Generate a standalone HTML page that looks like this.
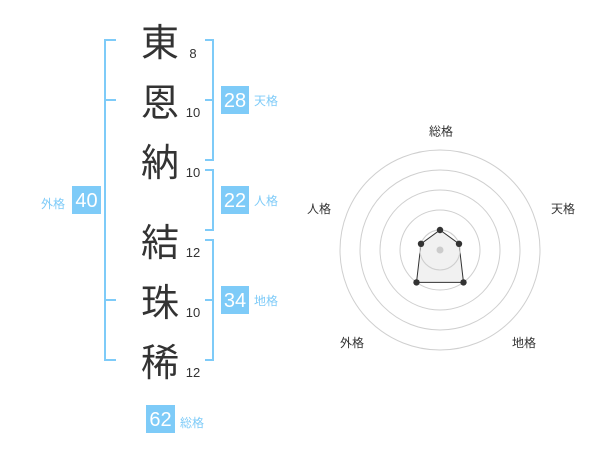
<!DOCTYPE html>
<html>
<head>
<meta charset="utf-8">
<style>
  html, body { margin: 0; padding: 0; background: #fff; }
  svg { display: block; }
  .k { font-family: "Liberation Sans", "Noto Sans CJK JP", sans-serif; font-size: 38px; fill: #333; text-anchor: middle; }
  .n { font-family: "Liberation Sans", sans-serif; font-size: 13px; fill: #333; text-anchor: middle; }
  .b { font-family: "Liberation Sans", sans-serif; font-size: 20px; fill: #fff; text-anchor: middle; }
  .l { font-family: "Liberation Sans", "Noto Sans CJK JP", sans-serif; font-size: 12px; fill: #7ecbf8; }
  .r { font-family: "Liberation Sans", "Noto Sans CJK JP", sans-serif; font-size: 12px; fill: #333; text-anchor: middle; }
</style>
</head>
<body>
<svg width="600" height="470" viewBox="0 0 600 470" xmlns="http://www.w3.org/2000/svg">
  <g stroke="#7ecbf8" stroke-width="2" fill="none">
    <polyline points="116,40 105,40 105,360 116,360"/>
    <line x1="105" y1="100" x2="116" y2="100"/>
    <line x1="105" y1="300" x2="116" y2="300"/>
    <polyline points="205,40 213,40 213,160 205,160"/>
    <line x1="205" y1="100" x2="213" y2="100"/>
    <polyline points="205,170 213,170 213,230 205,230"/>
    <polyline points="205,240 213,240 213,360 205,360"/>
    <line x1="205" y1="300" x2="213" y2="300"/>
  </g>

  <text class="k" x="160" y="56">東</text>
  <text class="k" x="160" y="116">恩</text>
  <text class="k" x="160" y="176">納</text>
  <text class="k" x="160" y="256">結</text>
  <text class="k" x="160" y="316">珠</text>
  <text class="k" x="160" y="376">稀</text>

  <text class="n" x="193" y="58">8</text>
  <text class="n" x="193" y="117">10</text>
  <text class="n" x="193" y="177">10</text>
  <text class="n" x="193" y="257">12</text>
  <text class="n" x="193" y="317">10</text>
  <text class="n" x="193" y="377">12</text>

  <g fill="#7ecbf8">
    <rect x="221" y="86" width="28" height="28"/>
    <rect x="221" y="186" width="28" height="28"/>
    <rect x="221" y="286" width="28" height="28"/>
    <rect x="72" y="186" width="29" height="28"/>
    <rect x="146" y="405" width="29" height="28"/>
  </g>
  <text class="b" x="235" y="107">28</text>
  <text class="b" x="235" y="207">22</text>
  <text class="b" x="235" y="307">34</text>
  <text class="b" x="86.5" y="207">40</text>
  <text class="b" x="160.5" y="426">62</text>

  <text class="l" x="254" y="105">天格</text>
  <text class="l" x="254" y="205">人格</text>
  <text class="l" x="254" y="305">地格</text>
  <text class="l" x="41" y="208">外格</text>
  <text class="l" x="180" y="427">総格</text>

  <g fill="none" stroke="#cfcfcf" stroke-width="1">
    <circle cx="440" cy="250" r="100"/>
    <circle cx="440" cy="250" r="80"/>
    <circle cx="440" cy="250" r="60"/>
    <circle cx="440" cy="250" r="40"/>
    <circle cx="440" cy="250" r="20"/>
  </g>
  <polygon points="440,230 459,243.8 463.5,282.4 416.5,282.4 421,243.8" fill="#e6e6e6" fill-opacity="0.55" stroke="#333" stroke-width="1"/>
  <circle cx="440" cy="250" r="20" fill="none" stroke="#cfcfcf" stroke-width="1"/>
  <circle cx="440" cy="250" r="3.5" fill="#cccccc"/>
  <g fill="#333">
    <circle cx="440" cy="230" r="3.2"/>
    <circle cx="459" cy="243.8" r="3.2"/>
    <circle cx="463.5" cy="282.4" r="3.2"/>
    <circle cx="416.5" cy="282.4" r="3.2"/>
    <circle cx="421" cy="243.8" r="3.2"/>
  </g>

  <text class="r" x="441" y="135.5">総格</text>
  <text class="r" x="563" y="213">天格</text>
  <text class="r" x="319" y="213">人格</text>
  <text class="r" x="352" y="347">外格</text>
  <text class="r" x="524" y="347">地格</text>
</svg>
</body>
</html>
